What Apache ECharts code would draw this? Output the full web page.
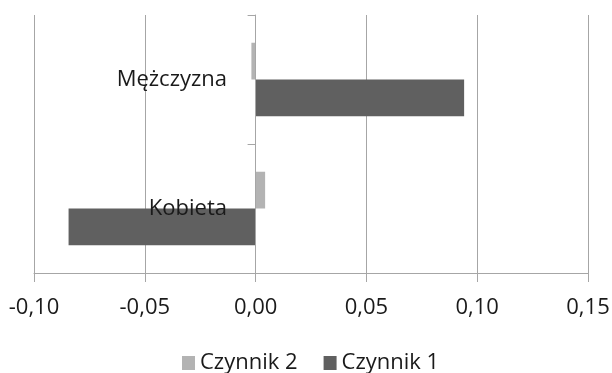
<!DOCTYPE html>
<html><head><meta charset="utf-8">
<script src="https://cdn.jsdelivr.net/npm/echarts@6/dist/echarts.min.js"></script>
<style>html,body{margin:0;padding:0;background:#fff}#c{width:612px;height:373px}</style>
</head><body><div id="c"></div>
<script>
var categories = ['Kobieta', 'Mężczyzna'];
var czynnik2 = [0.0043, -0.0019];
var czynnik1 = [-0.0844, 0.0941];
var seriesNames = ['Czynnik 2', 'Czynnik 1'];

var FONT = 'Open Sans';
var chart = echarts.init(document.getElementById('c'), null, {renderer: 'canvas'});
chart.setOption({
  animation: false,
  backgroundColor: '#fff',
  textStyle: {fontFamily: FONT},
  grid: {left: 34, right: 24, top: 15, bottom: 100, containLabel: false, outerBoundsMode: 'none'},
  legend: {
    data: seriesNames, bottom: -1, left: 182, padding: 0, itemWidth: 13, itemHeight: 14,
    icon: 'rect', itemGap: 26,
    textStyle: {fontFamily: FONT, fontSize: 22, color: '#1a1a1a'}
  },
  xAxis: {
    type: 'value', min: -0.1, max: 0.15, interval: 0.05,
    axisLine: {show: true, lineStyle: {color: '#a6a6a6', width: 1}},
    axisTick: {show: true, length: 9, lineStyle: {color: '#a6a6a6'}},
    splitLine: {show: true, lineStyle: {color: '#a6a6a6', width: 1}},
    axisLabel: {
      fontFamily: FONT, fontSize: 22, color: '#1a1a1a', margin: 24,
      formatter: function (v) { return v.toFixed(2).replace('.', ','); }
    }
  },
  yAxis: {
    type: 'category', data: categories, z: 10,
    axisLine: {show: true, onZero: true, lineStyle: {color: '#a6a6a6', width: 1}},
    axisTick: {show: true, length: 8, lineStyle: {color: '#a6a6a6'}},
    axisLabel: {fontFamily: FONT, fontSize: 22, color: '#1a1a1a', margin: -193}
  },
  series: [
    {name: seriesNames[0], type: 'bar', data: czynnik2, barGap: '0%', barCategoryGap: '43%',
     itemStyle: {color: '#b3b3b3'}},
    {name: seriesNames[1], type: 'bar', data: czynnik1, barGap: '0%', barCategoryGap: '43%',
     itemStyle: {color: '#606060'}}
  ]
});
</script></body></html>
